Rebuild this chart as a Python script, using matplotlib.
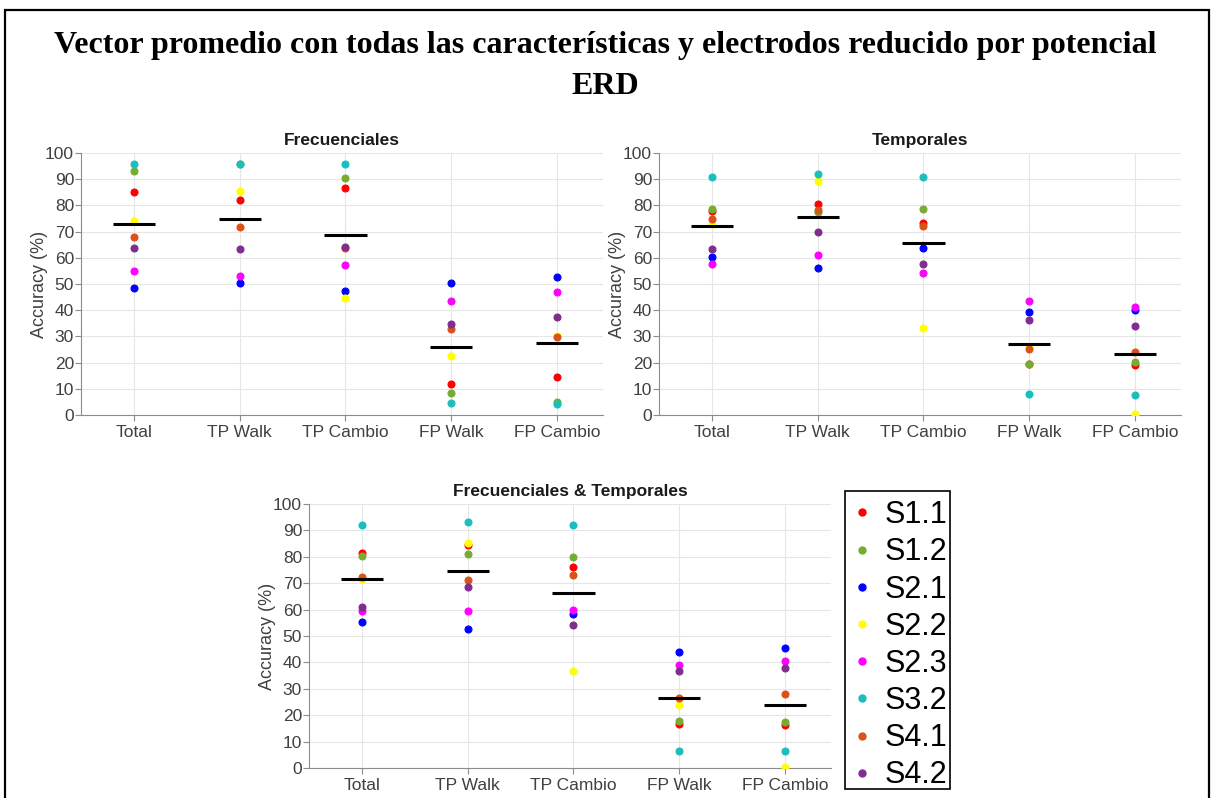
import numpy as np
import matplotlib
matplotlib.use("Agg")
import matplotlib.pyplot as plt
from matplotlib.lines import Line2D
from matplotlib.patches import Rectangle

plt.rcParams['font.family'] = ['Liberation Sans', 'DejaVu Sans']

categories = ["Total", "TP Walk", "TP Cambio", "FP Walk", "FP Cambio"]
subjects = ["S1.1", "S1.2", "S2.1", "S2.2", "S2.3", "S3.2", "S4.1", "S4.2"]
subject_colors = ["#ff0000", "#77ac30", "#0000ff", "#ffff00",
                  "#ff00ff", "#19bfbf", "#d95319", "#7e2f8e"]

# Accuracy (%) per subject; each list follows the category order
frecuenciales = {
    "S1.1": [85.2, 81.9, 86.8, 11.7, 14.6],
    "S1.2": [93.2, 95.8, 90.5, 8.5, 5.1],
    "S2.1": [48.3, 50.2, 47.4, 50.2, 52.7],
    "S2.2": [73.9, 85.6, 44.7, 22.6, 30.2],
    "S2.3": [55.1, 52.9, 57.2, 43.5, 46.9],
    "S3.2": [95.8, 95.7, 95.9, 4.4, 4.1],
    "S4.1": [67.8, 71.9, 63.8, 32.8, 29.7],
    "S4.2": [63.6, 63.4, 64.1, 34.6, 37.3],
}
temporales = {
    "S1.1": [77.7, 80.6, 73.4, 19.6, 19.1],
    "S1.2": [78.5, 77.5, 78.8, 19.6, 20.2],
    "S2.1": [60.2, 56.0, 63.9, 39.4, 39.9],
    "S2.2": [72.9, 89.4, 33.1, 26.0, 0.3],
    "S2.3": [57.7, 61.0, 54.1, 43.5, 41.2],
    "S3.2": [90.9, 91.9, 90.9, 8.2, 7.6],
    "S4.1": [75.0, 78.1, 72.0, 25.1, 24.0],
    "S4.2": [63.4, 70.0, 57.7, 36.2, 33.8],
}
frec_temp = {
    "S1.1": [81.6, 84.5, 76.1, 16.8, 16.1],
    "S1.2": [80.3, 81.2, 80.0, 17.9, 17.5],
    "S2.1": [55.3, 52.5, 58.2, 44.0, 45.4],
    "S2.2": [71.6, 85.4, 36.9, 24.0, 0.3],
    "S2.3": [59.4, 59.3, 60.0, 39.1, 40.7],
    "S3.2": [92.1, 93.0, 91.9, 6.6, 6.6],
    "S4.1": [72.3, 71.3, 73.1, 26.5, 27.9],
    "S4.2": [61.0, 68.4, 54.3, 36.9, 37.9],
}

W, H = 1211, 798
fig = plt.figure(figsize=(W / 100, H / 100), dpi=100)

# outer frame around the whole figure
fig.patches.append(Rectangle((5 / W, -0.01), 1204 / W, 1 - 10 / H + 0.01,
                             transform=fig.transFigure, fill=False,
                             edgecolor="black", linewidth=1.6))

fig.text(0.5, 1 - 45 / H,
         "Vector promedio con todas las características y electrodos reducido por potencial",
         ha="center", va="center", family="Liberation Serif",
         fontweight="bold", fontsize=23)
fig.text(0.5, 1 - 86 / H, "ERD", ha="center", va="center",
         family="Liberation Serif", fontweight="bold", fontsize=23)


def px_axes(left, top, right, bottom):
    return fig.add_axes([left / W, 1 - bottom / H, (right - left) / W,
                         (bottom - top) / H])


def draw_panel(ax, data, title):
    x = np.arange(1, len(categories) + 1)
    for name, color in zip(subjects, subject_colors):
        ax.plot(x, data[name], linestyle="none", marker="o", markersize=5,
                markerfacecolor=color, markeredgecolor=color,
                markeredgewidth=0.8, zorder=3)
    means = np.mean([data[s] for s in subjects], axis=0)
    for xi, m in zip(x, means):
        ax.plot([xi - 0.2, xi + 0.2], [m, m], color="black", linewidth=2.2,
                solid_capstyle="butt", zorder=4)
    ax.set_xlim(0.5, 5.435)
    ax.set_ylim(0, 100)
    ax.set_xticks(x)
    ax.set_xticklabels(categories)
    ax.set_yticks(np.arange(0, 101, 10))
    ax.grid(True, color="#e6e6e6", linewidth=0.8)
    ax.set_axisbelow(True)
    for side in ("top", "right"):
        ax.spines[side].set_visible(False)
    for side in ("left", "bottom"):
        ax.spines[side].set_color("#8c8c8c")
        ax.spines[side].set_linewidth(0.8)
    ax.tick_params(direction="out", length=4, width=0.8, color="#8c8c8c",
                   labelcolor="#404040", labelsize=12.5)
    ax.tick_params(axis="x", pad=3)
    ax.tick_params(axis="y", pad=1)
    ax.set_ylabel("Accuracy (%)", fontsize=13, color="#404040", labelpad=-2)
    ax.set_title(title, fontsize=12.5, fontweight="bold", color="#1a1a1a",
                 pad=6)


ax1 = px_axes(81, 153, 603, 415)
draw_panel(ax1, frecuenciales, "Frecuenciales")
ax2 = px_axes(659, 153, 1181, 415)
draw_panel(ax2, temporales, "Temporales")
ax3 = px_axes(309, 504, 831, 768)
draw_panel(ax3, frec_temp, "Frecuenciales & Temporales")

# legend box
fig.patches.append(Rectangle((845 / W, 1 - 789 / H), 105 / W, 298 / H,
                             transform=fig.transFigure, fill=False,
                             edgecolor="black", linewidth=1.2, zorder=5))
handles = [Line2D([], [], linestyle="none", marker="o", markersize=5,
                  markerfacecolor=c, markeredgecolor=c)
           for c in subject_colors]
leg = fig.legend(handles, subjects, loc="upper left",
                 bbox_to_anchor=(845 / W, 1 - 491 / H), borderaxespad=0,
                 fontsize=22, frameon=False,
                 handlelength=0.5, handletextpad=0.5, labelspacing=0.235,
                 borderpad=0.3)

fig.savefig("out.png", dpi=100)
